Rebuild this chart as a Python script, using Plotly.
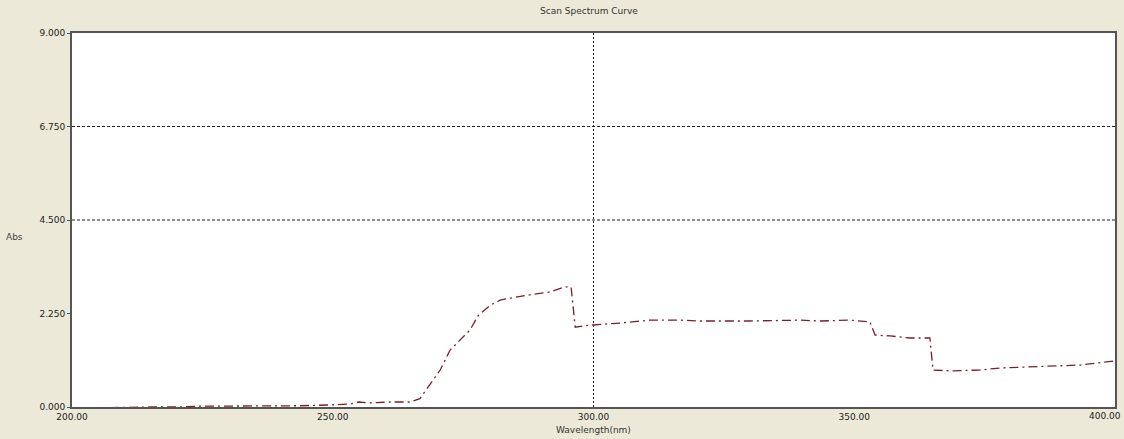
import plotly.graph_objects as go

wavelength = [200.0, 205.4, 210.0, 215.0, 220.0, 224.5, 230.0, 234.1, 240.0, 243.7, 249.5, 253.3,
              255.0, 257.1, 261.0, 264.8, 266.7, 268.6, 270.6, 272.5, 274.4, 276.3, 277.9,
              280.2, 282.1, 284.0, 287.8, 291.7, 294.5, 295.7, 296.5, 299.3, 305.1, 310.8,
              316.6, 320.4, 330.0, 339.6, 343.4, 349.2, 353.0, 354.0, 356.9, 360.7, 364.5,
              365.1, 368.4, 374.1, 378.0, 387.5, 393.3, 400.0]
absorb = [-0.02, -0.02, -0.01, 0.0, 0.0, 0.02, 0.02, 0.03, 0.03, 0.03, 0.05, 0.07,
          0.12, 0.10, 0.12, 0.12, 0.20, 0.53, 0.89, 1.37, 1.60, 1.85, 2.20,
          2.45, 2.57, 2.62, 2.70, 2.77, 2.89, 2.89, 1.92, 1.97, 2.02, 2.09,
          2.09, 2.07, 2.07, 2.09, 2.07, 2.09, 2.05, 1.73, 1.71, 1.66, 1.66,
          0.89, 0.87, 0.89, 0.94, 0.99, 1.01, 1.11]

x_ticks = [200, 250, 300, 350, 400]
x_labels = ["200.00", "250.00", "300.00", "350.00", "400.00"]
y_ticks = [0, 2.25, 4.5, 6.75, 9]
y_labels = ["0.000", "2.250", "4.500", "6.750", "9.000"]
y_grid = [4.5, 6.75]
x_grid = [300]

fig = go.Figure()
fig.add_trace(go.Scatter(x=wavelength, y=absorb, mode="lines",
                         line=dict(color="#7a1f2a", width=1.3, dash="9px,4px,2px,4px"),
                         showlegend=False))

shapes = []
for g in y_grid:
    shapes.append(dict(type="line", xref="paper", x0=0, x1=1, yref="y", y0=g, y1=g,
                       line=dict(color="#222", width=1, dash="3px,2px"), layer="below"))
for g in x_grid:
    shapes.append(dict(type="line", yref="paper", y0=0, y1=1, xref="x", x0=g, x1=g,
                       line=dict(color="#222", width=1, dash="2px,2px"), layer="below"))

# last x tick label drawn as a right-anchored annotation so it stays inside the page
shown_labels = x_labels[:-1] + [""]
annotations = [
    dict(text="Wavelength(nm)", xref="paper", yref="paper", x=0.5, y=-0.062,
         xanchor="center", yanchor="middle", showarrow=False, font=dict(size=9, color="#333")),
    dict(text="Abs", xref="paper", yref="paper", x=-0.055, y=0.455,
         xanchor="center", yanchor="middle", showarrow=False, font=dict(size=9, color="#444")),
    dict(text=x_labels[-1], xref="x", yref="paper", x=x_ticks[-1], y=0, xshift=8, yshift=-9,
         xanchor="right", yanchor="middle", showarrow=False, font=dict(size=9, color="#222")),
]

fig.update_layout(
    width=1124, height=439,
    margin=dict(l=72, r=9, t=33, b=32),
    paper_bgcolor="#ECE9D8", plot_bgcolor="white",
    font=dict(family="DejaVu Sans", size=9, color="#222"),
    title=dict(text="Scan Spectrum Curve", x=0.524, xanchor="center", y=0.975, yanchor="middle",
               font=dict(size=9, color="#333")),
    shapes=shapes,
    annotations=annotations,
)
fig.update_xaxes(range=[200, 400], tickvals=x_ticks, ticktext=shown_labels, showgrid=False,
                 zeroline=False, showline=True, linecolor="#555", linewidth=2, mirror=True,
                 ticks="", tickfont=dict(size=9, color="#222"), automargin=False)
fig.update_yaxes(range=[0, 9], tickvals=y_ticks, ticktext=y_labels, showgrid=False,
                 zeroline=False, showline=True, linecolor="#555", linewidth=2, mirror=True,
                 ticks="outside", ticklen=3, tickcolor="#555", tickfont=dict(size=9, color="#222"),
                 automargin=False)

fig.write_html("out.html", config={"displayModeBar": False},
               post_script="document.body.style.margin='0';document.body.style.overflow='hidden';")
